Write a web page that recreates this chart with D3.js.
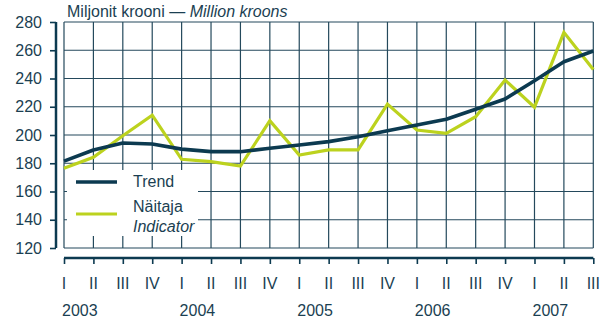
<!DOCTYPE html>
<html>
<head>
<meta charset="utf-8">
<script src="https://cdn.jsdelivr.net/npm/d3@7"></script>
<style>
  html, body { margin: 0; padding: 0; background: #fff; }
  svg { display: block; font-family: "Liberation Sans", Arial, sans-serif; }
</style>
</head>
<body>
<svg id="chart" width="606" height="320"></svg>
<script>
// Quarterly series, 2003 Q1 – 2007 Q3
const quarters = ["I","II","III","IV","I","II","III","IV","I","II","III","IV","I","II","III","IV","I","II","III"];
const years = [{label: "2003", start: 0}, {label: "2004", start: 4}, {label: "2005", start: 8}, {label: "2006", start: 12}, {label: "2007", start: 16}];
const trend = [181.5, 189.4, 194.3, 193.6, 190.0, 188.2, 188.2, 190.6, 192.9, 195.3, 198.8, 203.0, 207.1, 211.1, 218.2, 225.5, 238.4, 251.9, 259.5];
const indicator = [176.4, 184.2, 199.5, 214.0, 182.8, 181.1, 178.0, 210.1, 185.8, 189.4, 189.4, 221.9, 203.5, 201.2, 213.0, 238.9, 219.7, 272.7, 246.4];
const yTicks = [120, 140, 160, 180, 200, 220, 240, 260, 280];

const textColor = "#1b3f52";
const gridColor = "#24495c";
const trendColor = "#0c3a50";
const indColor = "#bcd21e";

const svg = d3.select("#chart");
const idx = d3.range(quarters.length);

const x = d3.scalePoint().domain(idx).range([64, 593.3]);
const y = d3.scaleLinear().domain([120, 280]).range([248, 22]);

// grid
const grid = svg.append("g");
grid.selectAll("line.h").data(yTicks).join("line")
  .attr("x1", 64).attr("x2", 593.3)
  .attr("y1", d => y(d)).attr("y2", d => y(d))
  .attr("stroke", gridColor).attr("stroke-width", 1.2);
grid.selectAll("line.v").data(idx).join("line")
  .attr("x1", d => x(d)).attr("x2", d => x(d))
  .attr("y1", y(280)).attr("y2", y(120))
  .attr("stroke", gridColor).attr("stroke-width", 1.2);

// y axis: heavy spine at left with short outer ticks
const yAxis = svg.append("g").attr("transform", "translate(56,0)")
  .call(d3.axisLeft(y).tickValues(yTicks).tickSize(6).tickPadding(8).tickFormat(d3.format("d")));
yAxis.select(".domain").attr("stroke", trendColor).attr("stroke-width", 2.5)
  .attr("d", `M0,${y(280)}V${y(120)}`);
yAxis.selectAll(".tick line").attr("stroke", trendColor).attr("stroke-width", 1.6);
yAxis.selectAll(".tick text").attr("fill", textColor).style("font-size", "16px")
  .style("font-family", "'Liberation Sans', Arial, sans-serif");

// x axis: heavy baseline below the plot with downward ticks
const xAxis = svg.append("g").attr("transform", "translate(0,258)")
  .call(d3.axisBottom(x).tickSize(6).tickFormat(() => ""));
xAxis.select(".domain").attr("stroke", trendColor).attr("stroke-width", 2.5)
  .attr("d", `M${x(0)},0H${x(idx.length - 1)}`);
xAxis.selectAll(".tick line").attr("stroke", trendColor).attr("stroke-width", 1.6);

svg.append("g").selectAll("text").data(idx).join("text")
  .attr("x", d => x(d)).attr("y", 289)
  .attr("text-anchor", "middle").attr("fill", textColor)
  .style("font-size", "16px")
  .text(d => quarters[d]);

svg.append("g").selectAll("text").data(years).join("text")
  .attr("x", d => x(d.start) - 2).attr("y", 316)
  .attr("fill", textColor).style("font-size", "16px")
  .text(d => d.label);

// series
const line = d3.line().x((d, i) => x(i)).y(d => y(d));
svg.append("path").datum(indicator).attr("d", line)
  .attr("fill", "none").attr("stroke", indColor).attr("stroke-width", 3.2)
  .attr("stroke-linejoin", "miter");
svg.append("path").datum(trend).attr("d", line)
  .attr("fill", "none").attr("stroke", trendColor).attr("stroke-width", 3.6)
  .attr("stroke-linejoin", "round");

// title
const title = svg.append("text").attr("x", 67).attr("y", 17)
  .attr("fill", textColor).style("font-size", "16px");
title.append("tspan").text("Miljonit krooni — ");
title.append("tspan").style("font-style", "italic").text("Million kroons");

// legend
const lg = svg.append("g");
lg.append("rect").attr("x", 67).attr("y", 170).attr("width", 131).attr("height", 66).attr("fill", "#fff");
lg.append("line").attr("x1", 76).attr("x2", 117).attr("y1", 182).attr("y2", 182)
  .attr("stroke", trendColor).attr("stroke-width", 3.6);
lg.append("line").attr("x1", 76).attr("x2", 117).attr("y1", 214).attr("y2", 214)
  .attr("stroke", indColor).attr("stroke-width", 3.2);
lg.append("text").attr("x", 133).attr("y", 187).attr("fill", textColor).style("font-size", "16px").text("Trend");
lg.append("text").attr("x", 133).attr("y", 212).attr("fill", textColor).style("font-size", "16px").text("Näitaja");
lg.append("text").attr("x", 133).attr("y", 232).attr("fill", textColor).style("font-size", "16px")
  .style("font-style", "italic").text("Indicator");
</script>
</body>
</html>
